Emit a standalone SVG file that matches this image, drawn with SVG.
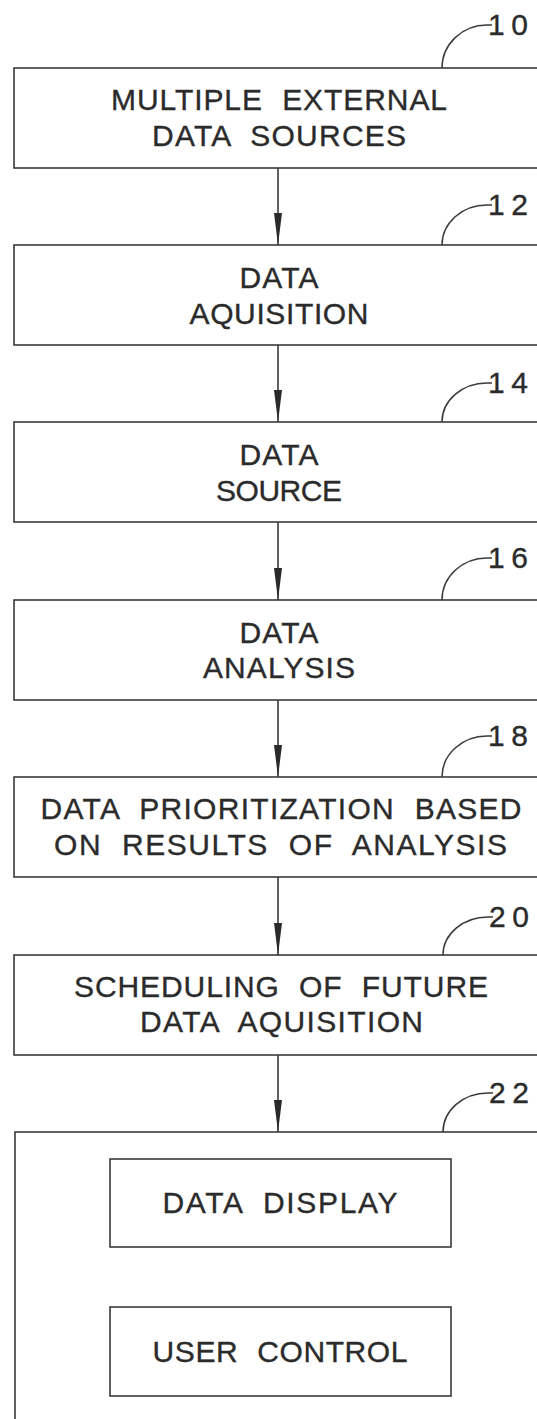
<svg xmlns="http://www.w3.org/2000/svg" width="537" height="1419" viewBox="0 0 537 1419">
<style>
.box{fill:none;stroke:#3a3a3a;stroke-width:1.6}
.lbl{font-family:"Liberation Sans",Arial,sans-serif;font-size:30px;fill:#2b2b2b;stroke:#2b2b2b;stroke-width:0.35;text-anchor:middle;word-spacing:10px}
.num{font-family:"Liberation Sans",Arial,sans-serif;font-size:30px;fill:#2b2b2b;stroke:#2b2b2b;stroke-width:0.35}
.lead{fill:none;stroke:#3a3a3a;stroke-width:1.5}
.conn{stroke:#3a3a3a;stroke-width:1.6;fill:none}
</style>
<defs>
<marker id="ah" markerUnits="userSpaceOnUse" viewBox="0 0 32 9" refX="32" refY="4.5" markerWidth="32" markerHeight="9" orient="auto">
<path d="M0,0.5 L32,4.5 L0,8.5 Z" fill="#2a2a2a"/>
</marker>
</defs>
<rect width="537" height="1419" fill="#ffffff"/>
<g id="connectors">
<line class="conn" x1="278" y1="168" x2="278" y2="245" marker-end="url(#ah)"/>
<line class="conn" x1="278" y1="345" x2="278" y2="422" marker-end="url(#ah)"/>
<line class="conn" x1="278" y1="522" x2="278" y2="600" marker-end="url(#ah)"/>
<line class="conn" x1="278" y1="700" x2="278" y2="777" marker-end="url(#ah)"/>
<line class="conn" x1="278" y1="877" x2="278" y2="955" marker-end="url(#ah)"/>
<line class="conn" x1="278" y1="1055" x2="278" y2="1132" marker-end="url(#ah)"/>
</g>
<g id="n10">
<rect class="box" x="14" y="68" width="540" height="100"/>
<text class="lbl" x="279" y="110" textLength="336" lengthAdjust="spacing">MULTIPLE EXTERNAL</text>
<text class="lbl" x="279" y="146" textLength="254" lengthAdjust="spacing">DATA SOURCES</text>
<path class="lead" d="M442,68 A45,43 0 0 1 487,25 h5"/>
<text class="num" x="488" y="35" textLength="40" lengthAdjust="spacing">10</text>
</g>
<g id="n12">
<rect class="box" x="14" y="245" width="540" height="100"/>
<text class="lbl" x="279" y="288" textLength="79" lengthAdjust="spacing">DATA</text>
<text class="lbl" x="279" y="324" textLength="179" lengthAdjust="spacing">AQUISITION</text>
<path class="lead" d="M442,245 A45,40 0 0 1 487,205 h5"/>
<text class="num" x="488" y="215" textLength="40" lengthAdjust="spacing">12</text>
</g>
<g id="n14">
<rect class="box" x="14" y="422" width="540" height="100"/>
<text class="lbl" x="279" y="465" textLength="79" lengthAdjust="spacing">DATA</text>
<text class="lbl" x="279" y="501" textLength="126" lengthAdjust="spacing">SOURCE</text>
<path class="lead" d="M442,422 A45,39 0 0 1 487,383 h5"/>
<text class="num" x="488" y="393" textLength="40" lengthAdjust="spacing">14</text>
</g>
<g id="n16">
<rect class="box" x="14" y="600" width="540" height="100"/>
<text class="lbl" x="279" y="643" textLength="79" lengthAdjust="spacing">DATA</text>
<text class="lbl" x="279" y="678" textLength="152" lengthAdjust="spacing">ANALYSIS</text>
<path class="lead" d="M442,600 A45,42 0 0 1 487,558 h5"/>
<text class="num" x="488" y="568" textLength="40" lengthAdjust="spacing">16</text>
</g>
<g id="n18">
<rect class="box" x="14" y="777" width="540" height="100"/>
<text class="lbl" x="281" y="819" textLength="481" lengthAdjust="spacing">DATA PRIORITIZATION BASED</text>
<text class="lbl" x="280.5" y="855" textLength="453" lengthAdjust="spacing">ON RESULTS OF ANALYSIS</text>
<path class="lead" d="M442,777 A45,41 0 0 1 487,736 h5"/>
<text class="num" x="488" y="746" textLength="40" lengthAdjust="spacing">18</text>
</g>
<g id="n20">
<rect class="box" x="14" y="955" width="540" height="100"/>
<text class="lbl" x="281" y="997" textLength="414" lengthAdjust="spacing">SCHEDULING OF FUTURE</text>
<text class="lbl" x="281.5" y="1032" textLength="283" lengthAdjust="spacing">DATA AQUISITION</text>
<path class="lead" d="M443,955 A45,38 0 0 1 488,917 h5"/>
<text class="num" x="489" y="927" textLength="40" lengthAdjust="spacing">20</text>
</g>
<g id="n22">
<rect class="box" x="15" y="1132" width="540" height="300"/>
<path class="lead" d="M443,1132 A45,39 0 0 1 488,1093 h5"/>
<text class="num" x="489" y="1103" textLength="40" lengthAdjust="spacing">22</text>
</g>
<g id="n22a">
<rect class="box" x="110" y="1159" width="341" height="88"/>
<text class="lbl" x="280" y="1213" textLength="235" lengthAdjust="spacing">DATA DISPLAY</text>
</g>
<g id="n22b">
<rect class="box" x="110" y="1307" width="341" height="89"/>
<text class="lbl" x="280" y="1362" textLength="255" lengthAdjust="spacing">USER CONTROL</text>
</g>
</svg>
